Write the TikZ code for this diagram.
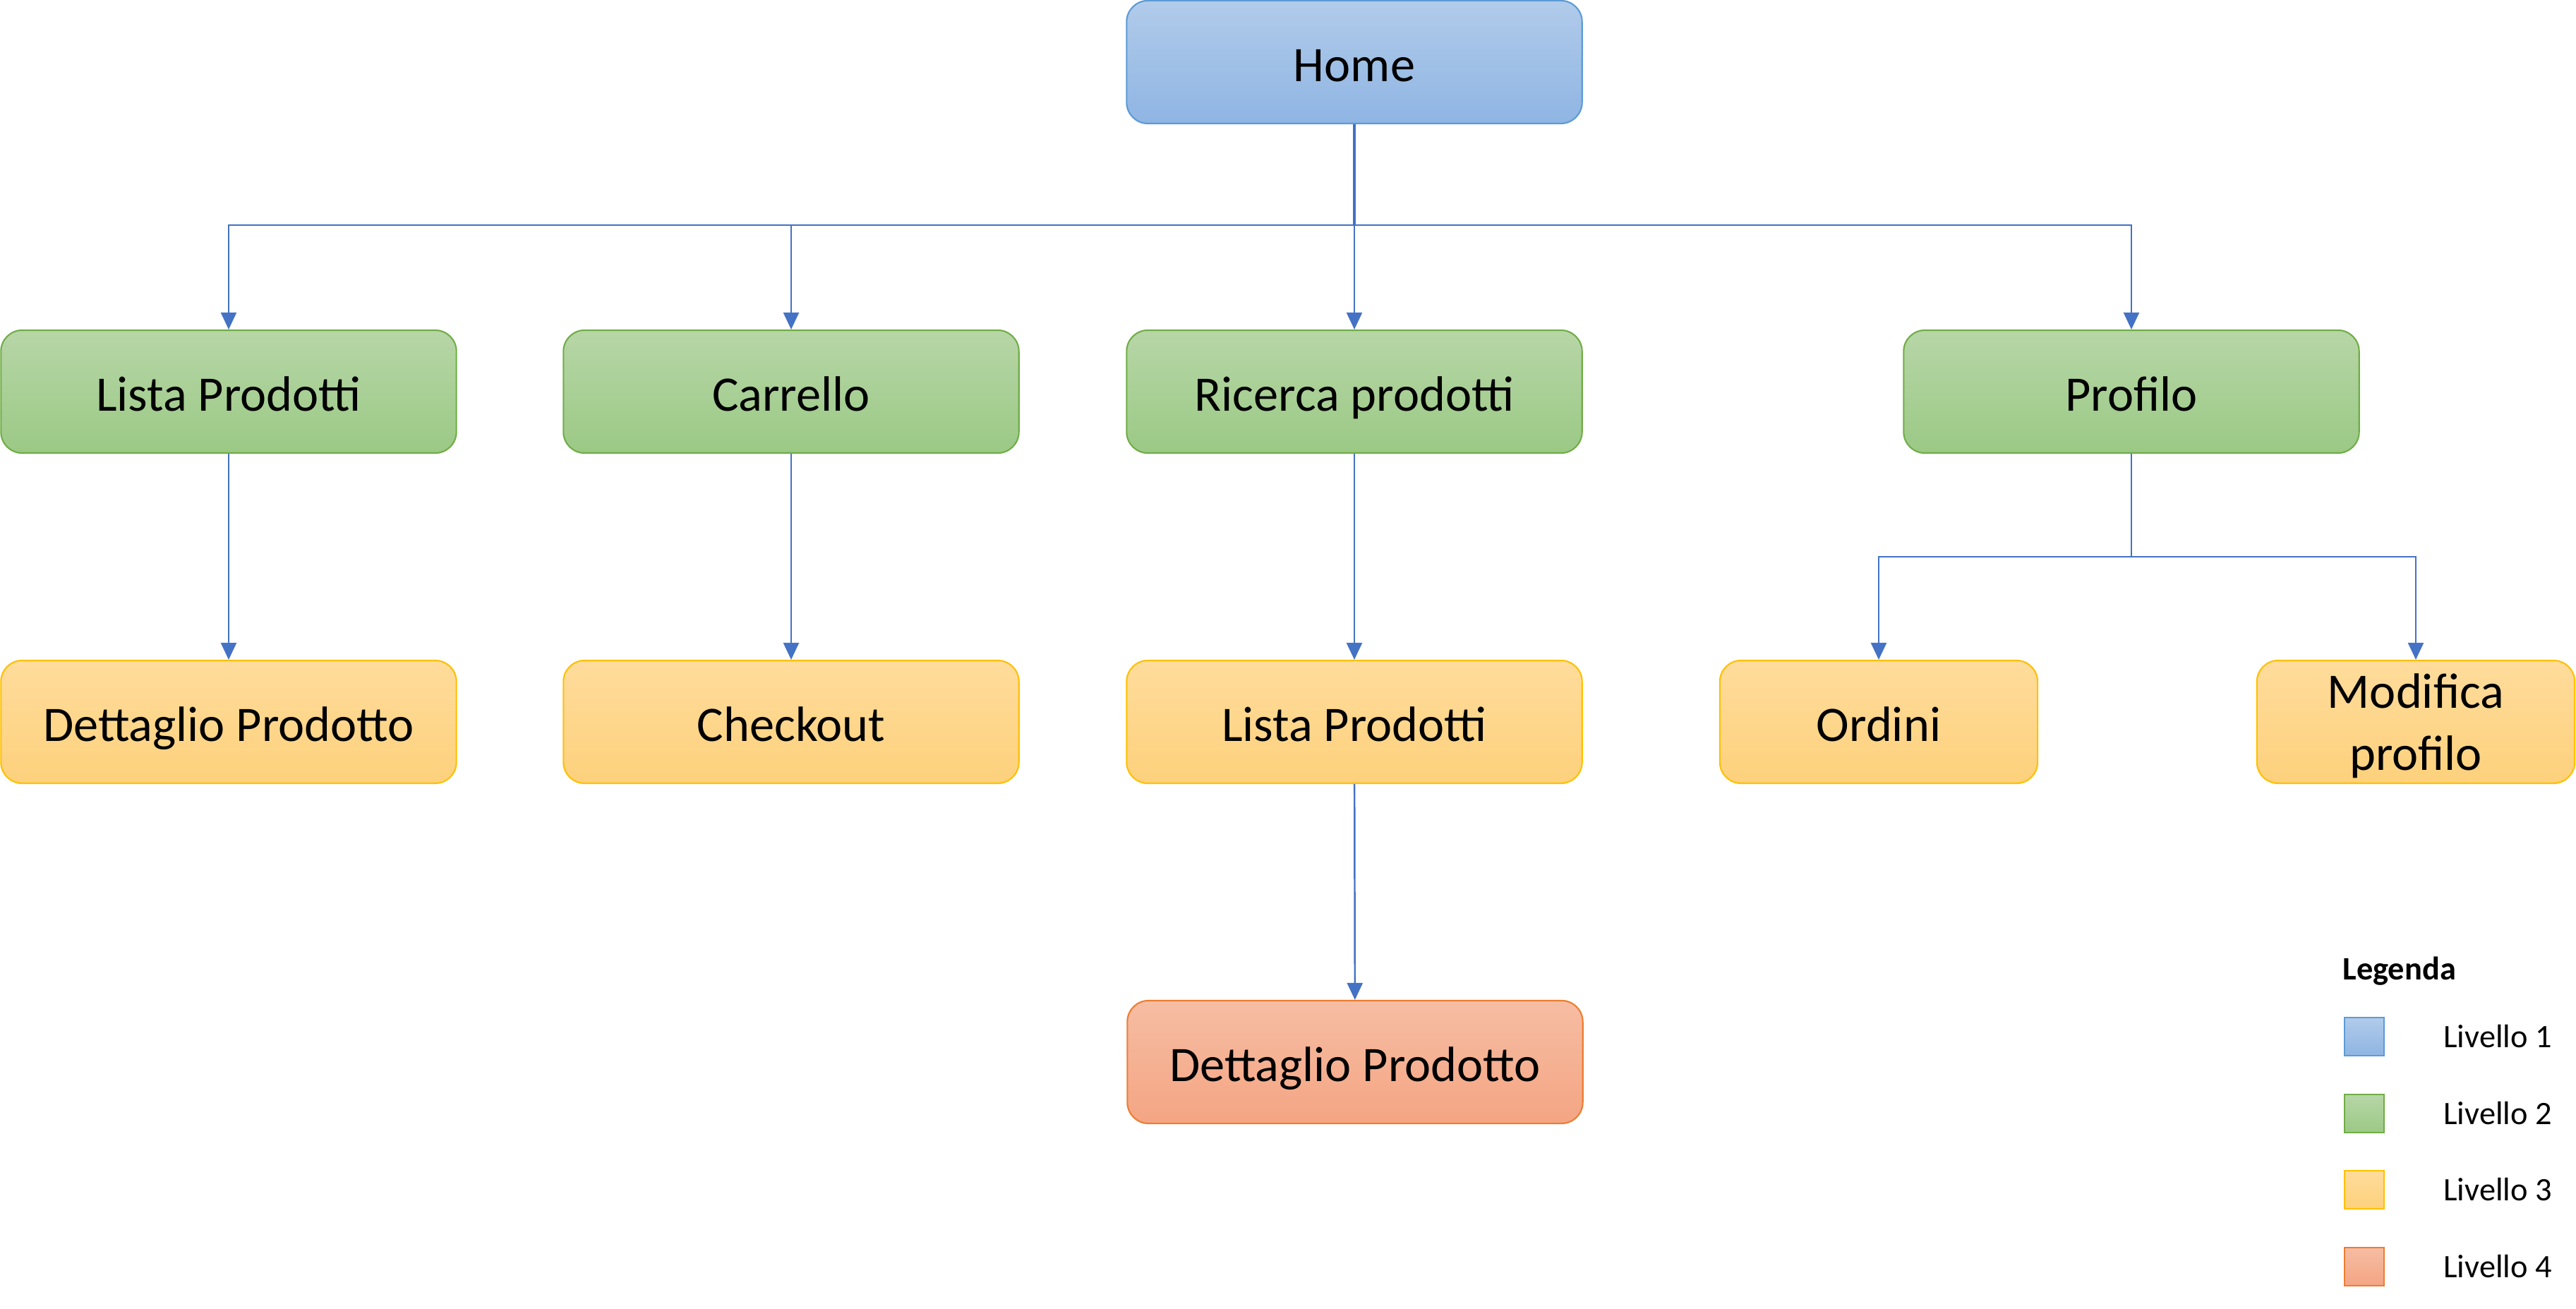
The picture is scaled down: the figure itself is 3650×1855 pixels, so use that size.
\documentclass[tikz,border=0pt]{standalone}
\usepackage{fontspec}
\setmainfont{Carlito}
\usetikzlibrary{arrows.meta}

\definecolor{blueT}{HTML}{B1CBEA}
\definecolor{blueB}{HTML}{8FB5E3}
\definecolor{blueD}{HTML}{5B9BD5}
\definecolor{greenT}{HTML}{B7D6A7}
\definecolor{greenB}{HTML}{9BC985}
\definecolor{greenD}{HTML}{70AD47}
\definecolor{yellowT}{HTML}{FFDC9C}
\definecolor{yellowB}{HTML}{FDD17C}
\definecolor{yellowD}{HTML}{FFC000}
\definecolor{orangeT}{HTML}{F6BDA3}
\definecolor{orangeB}{HTML}{F4A583}
\definecolor{orangeD}{HTML}{ED7D31}
\definecolor{linkC}{HTML}{4472C4}

\tikzset{
    box/.style={rectangle, rounded corners=0.3cm, line width=0.6pt, inner sep=0pt,
        minimum width=6.45cm, minimum height=1.74cm, align=center,
        text height=0.62cm, text depth=0.08cm,
        font=\fontsize{20}{24}\selectfont},
    lvlone/.style={box, draw=blueD, top color=blueT, bottom color=blueB},
    lvltwo/.style={box, draw=greenD, top color=greenT, bottom color=greenB},
    lvlthree/.style={box, draw=yellowD, top color=yellowT, bottom color=yellowB},
    lvlfour/.style={box, draw=orangeD, top color=orangeT, bottom color=orangeB},
    small/.style={minimum width=4.5cm},
    twolines/.style={text height={}, text depth={}, font=\fontsize{20}{25}\selectfont},
    link/.style={draw=linkC, line width=0.7pt, -{Triangle[width=0.22cm,length=0.24cm]}},
    swatch/.style={rectangle, line width=0.6pt, inner sep=0pt, minimum width=0.56cm, minimum height=0.54cm},
    legtext/.style={font=\fontsize{13.2}{16}\selectfont, anchor=west}
}

\begin{document}
\begin{tikzpicture}[x=0.01cm, y=-0.01cm]
        \useasboundingbox (0,0) rectangle (3650,1855);

        % livello 1
        \node[lvlone] (home) at (1919, 88) {Home};

        % livello 2
        \node[lvltwo] (lista) at (324, 555) {Lista Prodotti};
        \node[lvltwo] (carrello) at (1121, 555) {Carrello};
        \node[lvltwo] (ricerca) at (1919, 555) {Ricerca prodotti};
        \node[lvltwo] (profilo) at (3020, 555) {Profilo};

        % livello 3
        \node[lvlthree] (dettaglio) at (324, 1023) {Dettaglio Prodotto};
        \node[lvlthree] (checkout) at (1121, 1023) {Checkout};
        \node[lvlthree] (listaric) at (1919, 1023) {Lista Prodotti};
        \node[lvlthree, small] (ordini) at (2662, 1023) {Ordini};
        \node[lvlthree, small, twolines] (modifica) at (3423, 1023) {\rule{0pt}{0.6cm}Modifica\\profilo};

        % livello 4
        \node[lvlfour] (dettaglioric) at (1920, 1505) {Dettaglio Prodotto};

        % collegamenti
        \coordinate (bus) at (0, 319);
        \coordinate (pbus) at (0, 789);
        \draw[draw=linkC, line width=1.3pt] (home.south) -- (home.south |- bus);
        \draw[link] (home.south |- bus) -| (lista.north);
        \draw[link] (home.south |- bus) -| (carrello.north);
        \draw[link] (home.south |- bus) -| (ricerca.north);
        \draw[link] (home.south |- bus) -| (profilo.north);
        \draw[link] (lista) -- (dettaglio);
        \draw[link] (carrello) -- (checkout);
        \draw[link] (ricerca) -- (listaric);
        \draw[link] (listaric) -- (dettaglioric);
        \draw[draw=linkC, line width=0.7pt] (profilo.south) -- (profilo.south |- pbus);
        \draw[link] (profilo.south |- pbus) -| (ordini.north);
        \draw[link] (profilo.south |- pbus) -| (modifica.north);

        % legenda
        \node[legtext, font=\fontsize{13.2}{16}\selectfont\bfseries] (legenda) at (3307, 1376) {Legenda};
        \node[swatch, draw=blueD, top color=blueT, bottom color=blueB] (sw1) at (3350, 1469) {};
        \node[swatch, draw=greenD, top color=greenT, bottom color=greenB] (sw2) at (3350, 1578) {};
        \node[swatch, draw=yellowD, top color=yellowT, bottom color=yellowB] (sw3) at (3350, 1686) {};
        \node[swatch, draw=orangeD, top color=orangeT, bottom color=orangeB] (sw4) at (3350, 1795) {};
        \node[legtext] (liv1) at (3450, 1469) {Livello 1};
        \node[legtext] (liv2) at (3450, 1578) {Livello 2};
        \node[legtext] (liv3) at (3450, 1686) {Livello 3};
        \node[legtext] (liv4) at (3450, 1795) {Livello 4};
    \end{tikzpicture}
\end{document}
